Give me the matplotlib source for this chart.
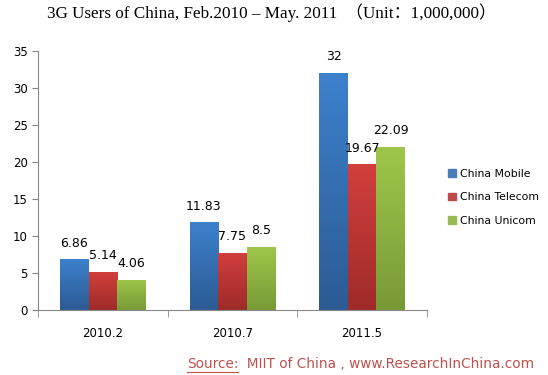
import numpy as np
from matplotlib import pyplot as plt
from matplotlib.colors import LinearSegmentedColormap
from matplotlib.patches import Patch

plt.rcParams['font.family'] = ['DejaVu Sans']

periods = ["2010.2", "2010.7", "2011.5"]
operators = ["China Mobile", "China Telecom", "China Unicom"]
mobile = [6.86, 11.83, 32]
telecom = [5.14, 7.75, 19.67]
unicom = [4.06, 8.5, 22.09]

# top colour, bottom colour for each series
shades = [("#3d80cc", "#2c5b94"), ("#d23f3c", "#9e2b29"), ("#9fc64b", "#789a36")]
legend_cols = ["#4a7ebb", "#be4b48", "#98b954"]

fig = plt.figure(figsize=(5.48, 3.75), dpi=100)
ax = fig.add_axes([0.0693, 0.1733, 0.7097, 0.6907])

x = np.arange(len(periods))
w = 0.22
for i, vals in enumerate([mobile, telecom, unicom]):
    bars = ax.bar(x + (i - 1) * w, vals, w, color=shades[i][0])
    cmap = LinearSegmentedColormap.from_list("g%d" % i, [shades[i][1], shades[i][0]])
    for b in bars:
        x0, y0 = b.get_x(), b.get_y()
        grad = np.linspace(0, 1, 100).reshape(-1, 1)
        im = ax.imshow(grad, cmap=cmap, origin="lower", aspect="auto",
                       extent=[x0, x0 + b.get_width(), y0, y0 + b.get_height()], zorder=2)
        im.set_clip_path(b)
        b.set_alpha(0)
    for xi, v in zip(x + (i - 1) * w, vals):
        ax.annotate("%g" % v, (xi, v), xytext=(0, 7), textcoords="offset points",
                    ha="center", va="bottom", fontsize=9)

ax.set_xlim(-0.5, 2.5)
ax.set_ylim(0, 35)
ax.set_yticks(range(0, 36, 5))
ax.set_xticks(x)
ax.set_xticklabels(periods)
ax.set_xticks([-0.5, 0.5, 1.5, 2.5], minor=True)
ax.tick_params(axis="x", which="major", length=0, pad=12, labelsize=8.5)
ax.tick_params(axis="x", which="minor", length=5, color="#888888")
ax.tick_params(axis="y", length=4, color="#888888", labelsize=8.5)
for s in ["top", "right"]:
    ax.spines[s].set_visible(False)
for s in ["left", "bottom"]:
    ax.spines[s].set_color("#888888")

handles = [Patch(color=c, label=n) for c, n in zip(legend_cols, operators)]
ax.legend(handles=handles, loc="center left", bbox_to_anchor=(1.03, 0.435), frameon=False,
          fontsize=7.8, handlelength=0.7, handleheight=0.7, labelspacing=1.25,
          handletextpad=0.4)

fig.text(0.495, 0.965, "3G Users of China, Feb.2010 – May. 2011  （Unit：1,000,000）",
         ha="center", va="center", fontsize=12.3,
         family=["Liberation Serif", "Noto Sans CJK SC"])

red = "#c0504d"
src = fig.text(0.341, 0.018, "Source:", color=red, fontsize=9.8, va="baseline")
fig.canvas.draw()
bb = src.get_window_extent().transformed(fig.transFigure.inverted())
fig.text(bb.x1, 0.018, "  MIIT of China , www.ResearchInChina.com", color=red,
         fontsize=9.8, va="baseline")
fig.add_artist(plt.Line2D([bb.x0, bb.x1], [0.009, 0.009], color=red, lw=0.8))

plt.savefig("out.png", dpi=100)
